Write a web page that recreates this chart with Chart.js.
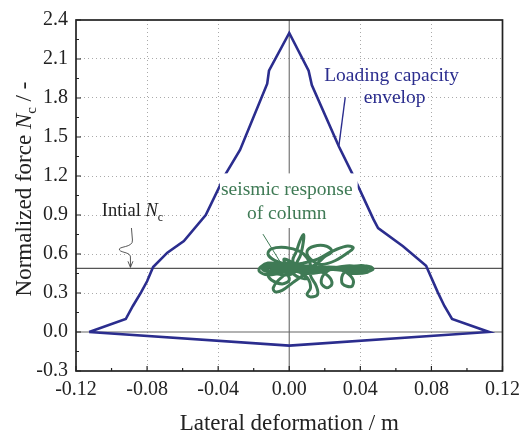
<!DOCTYPE html>
<html>
<head>
<meta charset="utf-8">
<script src="https://cdn.jsdelivr.net/npm/chart.js@4.4.1/dist/chart.umd.min.js"></script>
<style>
  html, body { margin: 0; padding: 0; background: #fff; }
  #wrap { width: 527px; height: 437px; }
</style>
</head>
<body>
<div id="wrap"><canvas id="c" width="527" height="437"></canvas></div>
<script>
// tick labels
const xTicks = [-0.12, -0.08, -0.04, 0.00, 0.04, 0.08, 0.12];
const yTicks = [-0.3, 0.0, 0.3, 0.6, 0.9, 1.2, 1.5, 1.8, 2.1, 2.4];

// loading capacity envelope (closed)
const envX = [-0.1126, -0.092, -0.088, -0.0834, -0.080, -0.0766, -0.0686, -0.0593, -0.047, -0.036, -0.0277, -0.0124, -0.0114, 0.0,
  0.0109, 0.0127, 0.028, 0.0354, 0.0474, 0.050, 0.064, 0.077, 0.0836, 0.0873, 0.0916, 0.1124, 0.0, -0.1126];
const envY = [0.0, 0.10, 0.20, 0.305, 0.39, 0.50, 0.61, 0.70, 0.90, 1.21, 1.40, 1.91, 2.01, 2.30,
  2.01, 1.90, 1.425, 1.22, 0.866, 0.80, 0.66, 0.51, 0.305, 0.20, 0.10, 0.0, -0.105, 0.0];

// seismic response of column
const respX = [0, -0.005, -0.012, -0.016, -0.017, -0.012, -0.004, 0.002, 0.006, 0.008, 0.008, 0.006, 0.004, 0.002, 0.005, 0.010,
  0.015, 0.020, 0.024, 0.021, 0.014, 0.010, 0.012, 0.018, 0.026, 0.034, 0.036, 0.032, 0.024, 0.016, 0.008, 0.0, -0.008, -0.012,
  -0.010, -0.002, 0.006, 0.010, 0.012, 0.008, 0.002, -0.004, -0.008, -0.009, -0.006, 0.0, 0.004, 0.010, 0.012, 0.010, 0.012,
  0.016, 0.015, 0.012, 0.016, 0.022, 0.024, 0.021, 0.018, 0.020, 0.026, 0.032, 0.036, 0.035, 0.030, 0.030, 0.034, 0.040, 0.046,
  0.047, 0.042, 0.036, 0.030, 0.022, 0.014, 0.006, -0.002, -0.010, -0.014, -0.010, -0.002, 0.004, 0.012, 0.020, 0.028, 0.036,
  0.044, 0.040, 0.032, 0.024, 0.016, 0.008, 0.000, -0.006, -0.012, -0.010, -0.004, 0.000, -0.002, -0.008, -0.002, 0.004, 0.000,
  0.008, 0.018, 0.028, 0.034, 0.040, 0.046, 0.044, 0.036, 0.031, 0.035, 0.042, 0.046, 0.040, 0.032, 0.024, 0.018, 0.010, 0.003,
  -0.004, -0.011, -0.015, -0.008, 0.000, 0.004, 0.001, -0.003, -0.001, 0.004, 0.010, 0.006, 0.002];
const respY = [0.49, 0.52, 0.53, 0.50, 0.47, 0.44, 0.46, 0.50, 0.58, 0.70, 0.75, 0.70, 0.62, 0.55, 0.50, 0.49,
  0.52, 0.58, 0.62, 0.66, 0.66, 0.62, 0.56, 0.52, 0.55, 0.62, 0.65, 0.66, 0.62, 0.56, 0.53, 0.52, 0.55, 0.60,
  0.64, 0.65, 0.62, 0.57, 0.50, 0.44, 0.38, 0.32, 0.31, 0.34, 0.40, 0.46, 0.47, 0.42, 0.34, 0.29, 0.27,
  0.29, 0.36, 0.44, 0.47, 0.43, 0.37, 0.34, 0.38, 0.45, 0.49, 0.46, 0.40, 0.35, 0.37, 0.44, 0.49, 0.51, 0.50,
  0.48, 0.46, 0.47, 0.49, 0.50, 0.49, 0.48, 0.49, 0.50, 0.49, 0.47, 0.48, 0.50, 0.51, 0.49, 0.48, 0.49,
  0.49, 0.47, 0.48, 0.49, 0.50, 0.50, 0.50, 0.50, 0.45, 0.40, 0.37, 0.40, 0.46, 0.50, 0.53, 0.52, 0.49,
  0.47, 0.48, 0.50, 0.51, 0.50, 0.49, 0.46, 0.45, 0.47, 0.50, 0.51, 0.48, 0.46, 0.47, 0.48, 0.46, 0.45, 0.47,
  0.51, 0.52, 0.48, 0.45, 0.44, 0.48, 0.54, 0.56, 0.50, 0.43, 0.41, 0.46, 0.49];

const initialNc = 0.49;

const BLUE = '#2b2d8e';
const GREEN = '#3f7a55';
const FONT = "'Liberation Serif', 'DejaVu Serif', serif";

function pts(xs, ys) { return xs.map((x, i) => ({ x: x, y: ys[i] })); }

// frame, inward ticks, titles and annotations
const decor = {
  id: 'decor',
  afterDatasetsDraw(chart) {
    const { ctx, chartArea: a, scales: { x, y } } = chart;
    ctx.save();

    // white box under "seismic response"
    ctx.fillStyle = '#fff';
    ctx.fillRect(x.getPixelForValue(-0.039), y.getPixelForValue(1.22), x.getPixelForValue(0.0385) - x.getPixelForValue(-0.039),
      y.getPixelForValue(0.8) - y.getPixelForValue(1.22));

    // frame
    ctx.strokeStyle = '#222';
    ctx.lineWidth = 1.7;
    ctx.strokeRect(a.left, a.top, a.right - a.left, a.bottom - a.top);

    // inward ticks (major + minor) on bottom and left
    ctx.lineWidth = 1.2;
    ctx.beginPath();
    for (let i = 0; i < xTicks.length; i++) {
      const px = x.getPixelForValue(xTicks[i]);
      ctx.moveTo(px, a.bottom); ctx.lineTo(px, a.bottom - 5);
      if (i < xTicks.length - 1) {
        const pm = x.getPixelForValue((xTicks[i] + xTicks[i + 1]) / 2);
        ctx.moveTo(pm, a.bottom); ctx.lineTo(pm, a.bottom - 3);
      }
    }
    for (let i = 0; i < yTicks.length; i++) {
      const py = y.getPixelForValue(yTicks[i]);
      ctx.moveTo(a.left, py); ctx.lineTo(a.left + 5, py);
      if (i < yTicks.length - 1) {
        const pm = y.getPixelForValue((yTicks[i] + yTicks[i + 1]) / 2);
        ctx.moveTo(a.left, pm); ctx.lineTo(a.left + 3, pm);
      }
    }
    ctx.stroke();

    // axis titles
    ctx.fillStyle = '#222';
    ctx.textBaseline = 'alphabetic';
    ctx.font = '23px ' + FONT;
    ctx.textAlign = 'center';
    ctx.fillText('Lateral deformation / m', (a.left + a.right) / 2, 430);

    ctx.save();
    ctx.translate(31, 189);
    ctx.rotate(-Math.PI / 2);
    const p1 = 'Normalized force ', p2 = 'N', p3 = 'c', p4 = ' / -';
    ctx.font = '23px ' + FONT; const w1 = ctx.measureText(p1).width;
    ctx.font = 'italic 23px ' + FONT; const w2 = ctx.measureText(p2).width;
    ctx.font = '15px ' + FONT; const w3 = ctx.measureText(p3).width;
    ctx.font = '23px ' + FONT; const w4 = ctx.measureText(p4).width;
    let sx = -(w1 + w2 + w3 + w4) / 2;
    ctx.textAlign = 'left';
    ctx.font = '23px ' + FONT; ctx.fillText(p1, sx, 0); sx += w1;
    ctx.font = 'italic 23px ' + FONT; ctx.fillText(p2, sx, 0); sx += w2;
    ctx.font = '15px ' + FONT; ctx.fillText(p3, sx, 5); sx += w3;
    ctx.font = '23px ' + FONT; ctx.fillText(p4, sx, 0);
    ctx.restore();

    // "Intial Nc"
    ctx.textAlign = 'left';
    let ix = x.getPixelForValue(-0.1055), iy = y.getPixelForValue(0.89);
    ctx.font = '18.5px ' + FONT; ctx.fillText('Intial ', ix, iy); ix += ctx.measureText('Intial ').width;
    ctx.font = 'italic 18.5px ' + FONT; ctx.fillText('N', ix, iy); ix += ctx.measureText('N').width;
    ctx.font = '12px ' + FONT; ctx.fillText('c', ix, iy + 5);

    // wavy arrow to the initial Nc line
    const ax = x.getPixelForValue(-0.0888), ay0 = y.getPixelForValue(0.80), ay1 = y.getPixelForValue(initialNc);
    ctx.strokeStyle = '#444'; ctx.lineWidth = 0.9;
    ctx.beginPath();
    ctx.moveTo(ax, ay0);
    ctx.lineTo(ax + 1, ay0 + 12);
    ctx.bezierCurveTo(ax + 2, ay0 + 20, ax - 14, ay0 + 18, ax - 12, ay0 + 22);
    ctx.bezierCurveTo(ax - 10, ay0 + 25, ax, ay0 + 24, ax - 1, ay0 + 30);
    ctx.lineTo(ax - 1, ay1 - 1);
    ctx.moveTo(ax - 3.5, ay1 - 7); ctx.lineTo(ax - 1, ay1 - 1); ctx.lineTo(ax + 1.5, ay1 - 7);
    ctx.stroke();

    // envelope label and leader
    ctx.strokeStyle = BLUE; ctx.lineWidth = 1.4;
    ctx.beginPath();
    ctx.moveTo(x.getPixelForValue(0.0315), y.getPixelForValue(1.806));
    ctx.lineTo(x.getPixelForValue(0.028), y.getPixelForValue(1.44));
    ctx.stroke();
    ctx.fillStyle = BLUE; ctx.textAlign = 'center'; ctx.font = '19.5px ' + FONT;
    ctx.fillText('Loading capacity', x.getPixelForValue(0.0576), y.getPixelForValue(1.98) + 6);
    ctx.fillText('envelop', x.getPixelForValue(0.0593), y.getPixelForValue(1.806) + 6);

    // seismic response label and leader
    ctx.strokeStyle = GREEN; ctx.lineWidth = 1;
    ctx.beginPath();
    ctx.moveTo(x.getPixelForValue(-0.0148), y.getPixelForValue(0.753));
    ctx.lineTo(x.getPixelForValue(-0.0047), y.getPixelForValue(0.53));
    ctx.stroke();
    ctx.fillStyle = GREEN;
    ctx.fillText('seismic response', x.getPixelForValue(-0.0014), y.getPixelForValue(1.097) + 6);
    ctx.fillText('of column', x.getPixelForValue(-0.0014), y.getPixelForValue(0.914) + 6);

    ctx.restore();
  }
};

new Chart(document.getElementById('c'), {
  type: 'scatter',
  data: {
    datasets: [
      { // initial Nc
        data: [{ x: -0.12, y: initialNc }, { x: 0.12, y: initialNc }],
        showLine: true, borderColor: '#555', borderWidth: 1.2, pointRadius: 0, order: 5
      },
      { // zero axis
        data: [{ x: -0.12, y: 0 }, { x: 0.12, y: 0 }],
        showLine: true, borderColor: '#666', borderWidth: 1.2, pointRadius: 0, order: 5
      },
      { // vertical zero line
        data: [{ x: 0, y: -0.3 }, { x: 0, y: 2.4 }],
        showLine: true, borderColor: '#777', borderWidth: 1.2, pointRadius: 0, order: 5
      },
      {
        label: 'Loading capacity envelop',
        data: pts(envX, envY),
        showLine: true, borderColor: BLUE, borderWidth: 2.6, pointRadius: 0, tension: 0, order: 2
      },
      {
        label: 'seismic response of column',
        data: pts(respX, respY),
        showLine: true, borderColor: GREEN, borderWidth: 3, pointRadius: 0, tension: 0.35, order: 1
      }
    ]
  },
  options: {
    responsive: false,
    animation: false,
    layout: { padding: { top: 17, right: 20, left: 0, bottom: 0 } },
    plugins: { legend: { display: false }, tooltip: { enabled: false } },
    scales: {
      x: {
        type: 'linear', min: -0.12, max: 0.12,
        afterBuildTicks: s => { s.ticks = xTicks.map(v => ({ value: v })); },
        afterFit: s => { s.height = 66; },
        ticks: { color: '#222', font: { family: FONT, size: 20 }, padding: 7, maxRotation: 0,
          callback: v => v.toFixed(2) },
        grid: { drawTicks: false, color: ctx => (ctx.tick && (Math.abs(ctx.tick.value) < 1e-9 || Math.abs(Math.abs(ctx.tick.value) - 0.12) < 1e-9)) ? 'rgba(0,0,0,0)' : '#aaa', lineWidth: 1 },
        border: { display: false, dash: [1, 3] }
      },
      y: {
        type: 'linear', min: -0.3, max: 2.4,
        afterBuildTicks: s => { s.ticks = yTicks.map(v => ({ value: v })); },
        afterFit: s => { s.width = 76; },
        ticks: { color: '#222', font: { family: FONT, size: 20 }, padding: 8,
          callback: v => v.toFixed(1) },
        grid: { drawTicks: false, color: ctx => (ctx.tick && (Math.abs(ctx.tick.value) < 1e-9 || Math.abs(ctx.tick.value + 0.3) < 1e-9 || Math.abs(ctx.tick.value - 2.4) < 1e-9)) ? 'rgba(0,0,0,0)' : '#aaa', lineWidth: 1 },
        border: { display: false, dash: [1, 3] }
      }
    }
  },
  plugins: [decor]
});
</script>
</body>
</html>
